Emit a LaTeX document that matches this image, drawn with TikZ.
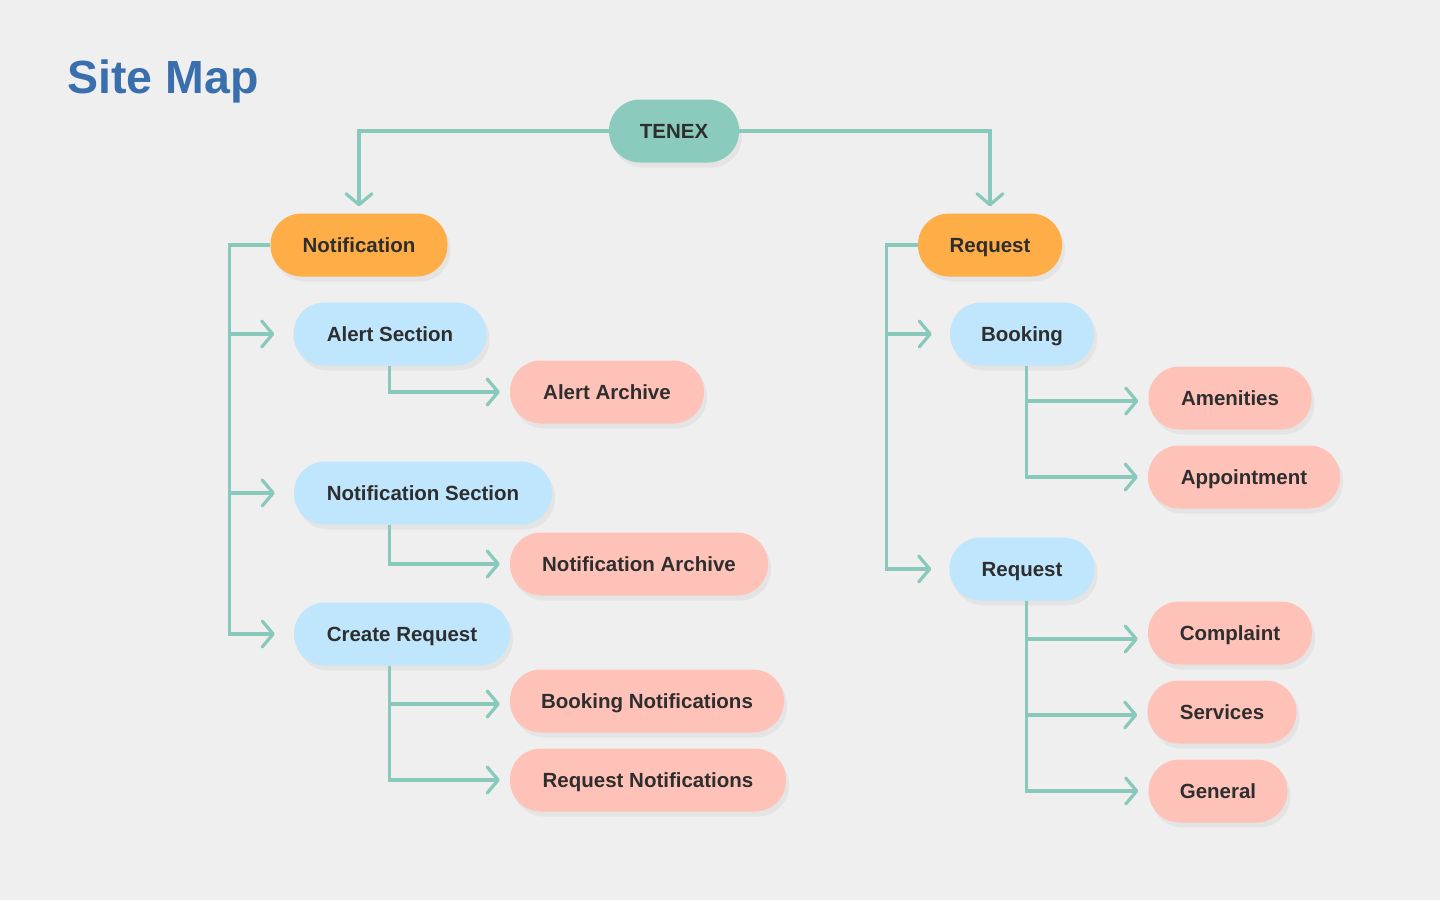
\documentclass[tikz,border=0pt]{standalone}
\usepackage{fontspec}
\setmainfont{Liberation Sans}
\usetikzlibrary{arrows.meta,shadows,calc}
\definecolor{bgc}{HTML}{EFEFEF}
\definecolor{linec}{HTML}{88C9BB}
\definecolor{tealc}{HTML}{8BCBBE}
\definecolor{orangec}{HTML}{FFAD47}
\definecolor{bluec}{HTML}{BFE6FC}
\definecolor{salmonc}{HTML}{FFC2B8}
\definecolor{txtc}{HTML}{2E2E2E}
\definecolor{titlec}{HTML}{3A6FAE}
\begin{document}
\begin{tikzpicture}[x=1pt,y=-1pt,
  box/.style={rounded corners=31pt, minimum height=63pt, inner sep=0pt,
    text height=19pt, text depth=4.8pt,
    font=\bfseries\fontsize{20.5}{24}\selectfont, text=txtc,
    drop shadow={opacity=0.09, shadow xshift=3pt, shadow yshift=-5pt}},
  rootbox/.style={box, fill=tealc},
  mainbox/.style={box, fill=orangec},
  secbox/.style={box, fill=bluec},
  leafbox/.style={box, fill=salmonc},
  link/.style={draw=linec, line width=3.2pt, line join=miter,
    -{Straight Barb[length=11pt,width=26pt,line width=3.2pt,round]}}]
\fill[bgc] (0,0) rectangle (1440,900);
\useasboundingbox (0,0) rectangle (1440,900);

\node[anchor=west, text=titlec, font=\bfseries\fontsize{46.5}{52}\selectfont] (title) at (64,81) {Site Map};

\node[rootbox, minimum width=130pt] (tenex) at (674,131) {TENEX};
\node[mainbox, minimum width=177pt] (notif) at (359,245) {Notification};
\node[mainbox, minimum width=144pt] (reqo) at (990,245) {Request};

\node[secbox, minimum width=193pt] (alert) at (390,334) {Alert Section};
\node[leafbox, minimum width=194pt] (aarch) at (607,392) {Alert Archive};
\node[secbox, minimum width=258pt] (nsec) at (423,493) {Notification Section};
\node[leafbox, minimum width=258pt] (narch) at (639,564) {Notification Archive};
\node[secbox, minimum width=216pt] (creq) at (402,634) {Create Request};
\node[leafbox, minimum width=274pt] (bnot) at (647,701) {Booking Notifications};
\node[leafbox, minimum width=276pt] (rnot) at (648,780) {Request Notifications};

\node[secbox, minimum width=144pt] (book) at (1022,334) {Booking};
\node[leafbox, minimum width=163pt] (amen) at (1230,398) {Amenities};
\node[leafbox, minimum width=192pt] (appt) at (1244,477) {Appointment};
\node[secbox, minimum width=145pt] (reqb) at (1022,569) {Request};
\node[leafbox, minimum width=164pt] (comp) at (1230,633) {Complaint};
\node[leafbox, minimum width=149pt] (serv) at (1222,712) {Services};
\node[leafbox, minimum width=139pt] (gen) at (1218,791) {General};

% root to main
\draw[link, shorten >=7pt] (tenex.west) -| (notif.north);
\draw[link, shorten >=7pt] (tenex.east) -| (reqo.north);

% left spine
\coordinate (ls) at ($(notif.west)+(-41,0)$);
\draw[link, shorten >=19pt] (notif.west) -- (ls) |- (alert.west);
\draw[link, shorten >=19pt] (ls) |- (nsec.west);
\draw[link, shorten >=19pt] (ls) |- (creq.west);

% left children
\coordinate (a1) at ($(alert.south west)+(96,0)$);
\draw[link, shorten >=10pt] (a1) |- (aarch.west);
\coordinate (a2) at ($(nsec.south west)+(96,0)$);
\draw[link, shorten >=10pt] (a2) |- (narch.west);
\coordinate (a3) at ($(creq.south west)+(96,0)$);
\draw[link, shorten >=10pt] (a3) |- ([yshift=-3pt]bnot.west);
\draw[link, shorten >=10pt] (a3) |- (rnot.west);

% right spine
\coordinate (rs) at ($(reqo.west)+(-31,0)$);
\draw[link, shorten >=18pt] (reqo.west) -- (rs) |- (book.west);
\draw[link, shorten >=18pt] (rs) |- (reqb.west);

% right children
\coordinate (b1) at ($(book.south west)+(77,0)$);
\draw[link, shorten >=10pt] (b1) |- ([yshift=-3pt]amen.west);
\draw[link, shorten >=10pt] (b1) |- (appt.west);
\coordinate (b2) at ($(reqb.south west)+(77,0)$);
\draw[link, shorten >=10pt] (b2) |- ([yshift=-6pt]comp.west);
\draw[link, shorten >=10pt] (b2) |- ([yshift=-3pt]serv.west);
\draw[link, shorten >=10pt] (b2) |- (gen.west);
\end{tikzpicture}
\end{document}
